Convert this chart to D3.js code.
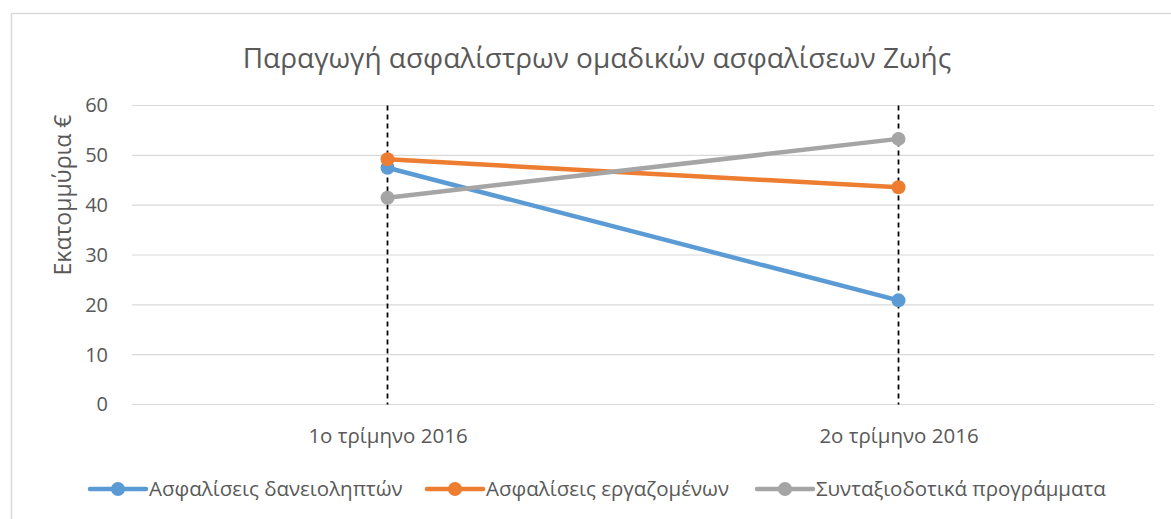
<!DOCTYPE html>
<html>
<head>
<meta charset="utf-8">
<script src="https://cdn.jsdelivr.net/npm/d3@7"></script>
<style>
  body { margin: 0; background: #fff; }
  svg text { font-family: "Open Sans", "Noto Sans", sans-serif; fill: #595959; }
</style>
</head>
<body>
<svg id="chart" width="1171" height="519"></svg>
<script>
// data
const categories = ['1ο τρίμηνο 2016', '2ο τρίμηνο 2016'];
const seriesNames = ['Ασφαλίσεις δανειοληπτών', 'Ασφαλίσεις εργαζομένων', 'Συνταξιοδοτικά προγράμματα'];
const seriesColors = ['#5b9bd5', '#ed7d31', '#a5a5a5'];
const borrowers = [47.5, 20.9];
const employees = [49.2, 43.6];
const pensions = [41.5, 53.3];
const yTicks = [0, 10, 20, 30, 40, 50, 60];

const seriesValues = [borrowers, employees, pensions];

const svg = d3.select('#chart');
const W = 1171, H = 519;

// chart border (Excel style frame)
svg.append('rect')
    .attr('x', 11.5).attr('y', 13.5)
    .attr('width', W + 10).attr('height', H + 10)
    .attr('fill', 'none')
    .attr('stroke', '#d9d9d9')
    .attr('stroke-width', 1.5);

const plot = { left: 132, right: 1154, top: 105.5, bottom: 404.5 };

const x = d3.scalePoint()
    .domain(categories)
    .range([plot.left, plot.right])
    .padding(0.5);

const y = d3.scaleLinear()
    .domain([0, 60])
    .range([plot.bottom, plot.top]);

// gridlines
svg.append('g')
    .selectAll('line')
    .data(yTicks)
    .join('line')
    .attr('x1', plot.left).attr('x2', plot.right)
    .attr('y1', d => y(d)).attr('y2', d => y(d))
    .attr('stroke', '#d9d9d9')
    .attr('stroke-width', 1.2);

// y axis tick labels
const yAxis = d3.axisLeft(y).tickValues(yTicks).tickSize(0).tickPadding(0);
const gy = svg.append('g')
    .attr('transform', `translate(108,0)`)
    .call(yAxis);
gy.select('.domain').remove();
gy.selectAll('text')
    .attr('font-size', 20)
    .attr('fill', '#595959')
    .style('font-family', '"Open Sans", sans-serif');

// x axis labels
const xAxis = d3.axisBottom(x).tickSize(0).tickPadding(0);
const gx = svg.append('g')
    .attr('transform', `translate(0,428)`)
    .call(xAxis);
gx.select('.domain').remove();
gx.selectAll('text')
    .attr('font-size', 20.5)
    .attr('fill', '#595959')
    .style('font-family', '"Open Sans", sans-serif');

// dashed drop lines at each category
svg.append('g')
    .selectAll('line')
    .data(categories)
    .join('line')
    .attr('x1', d => x(d)).attr('x2', d => x(d))
    .attr('y1', y(60)).attr('y2', y(0))
    .attr('stroke', '#000')
    .attr('stroke-width', 1.75)
    .attr('stroke-dasharray', '5,4');

// series lines + markers
const line = d3.line()
    .x((d, i) => x(categories[i]))
    .y(d => y(d));

seriesValues.forEach((vals, s) => {
    const g = svg.append('g');
    g.append('path')
        .datum(vals)
        .attr('d', line)
        .attr('fill', 'none')
        .attr('stroke', seriesColors[s])
        .attr('stroke-width', 4.5)
        .attr('stroke-linecap', 'round');
    g.selectAll('circle')
        .data(vals)
        .join('circle')
        .attr('cx', (d, i) => x(categories[i]))
        .attr('cy', d => y(d))
        .attr('r', 7)
        .attr('fill', seriesColors[s]);
});

// title
svg.append('text')
    .attr('x', 597)
    .attr('y', 68)
    .attr('text-anchor', 'middle')
    .attr('font-size', 28)
    .text('Παραγωγή ασφαλίστρων ομαδικών ασφαλίσεων Ζωής');

// y axis title
svg.append('text')
    .attr('transform', 'translate(71,195) rotate(-90)')
    .attr('text-anchor', 'middle')
    .attr('font-size', 23)
    .text('Εκατομμύρια €');

// legend
const legendX = [90, 427, 757];
const legend = svg.append('g');
seriesNames.forEach((name, s) => {
    const g = legend.append('g').attr('transform', `translate(${legendX[s]},489)`);
    g.append('line')
        .attr('x1', 0).attr('x2', 56)
        .attr('stroke', seriesColors[s])
        .attr('stroke-width', 4.5)
        .attr('stroke-linecap', 'round');
    g.append('circle')
        .attr('cx', 28).attr('r', 7)
        .attr('fill', seriesColors[s]);
    g.append('text')
        .attr('x', 59)
        .attr('dy', '0.35em')
        .attr('font-size', 20.5)
        .text(name);
});
</script>
</body>
</html>
